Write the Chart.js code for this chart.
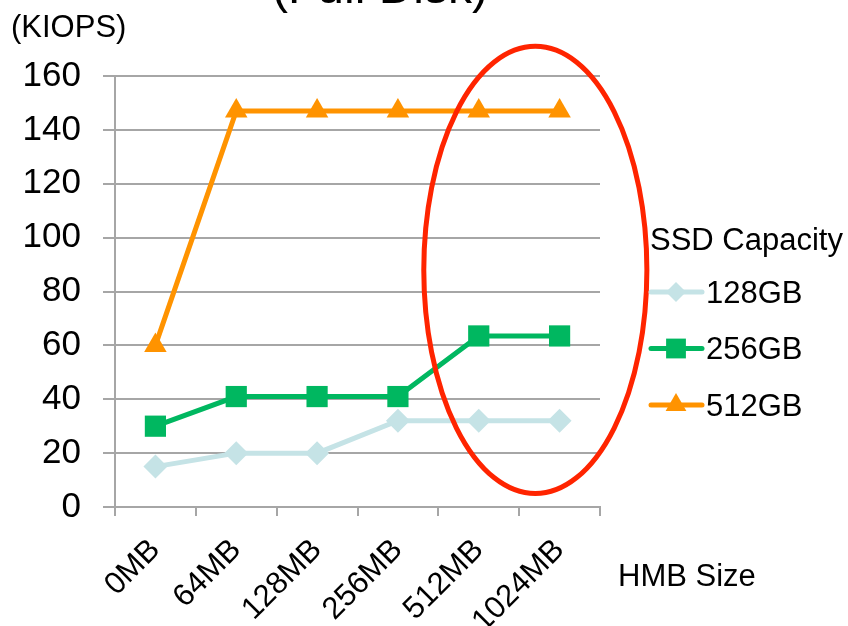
<!DOCTYPE html>
<html lang="en">
<head>
    <meta charset="UTF-8">
    <title>HMB Size vs KIOPS</title>
    <script src="https://cdn.jsdelivr.net/npm/chart.js@4.4.1/dist/chart.umd.min.js"></script>
    <style>
        html, body { margin: 0; padding: 0; background: white; }
        .chart-box { position: relative; width: 848px; height: 626px; }
    </style>
</head>
<body>
    <div class="chart-box">
        <canvas id="hmbChart" width="848" height="626"></canvas>
    </div>
    <script>
        // Data
        const hmbSizes = ['0MB', '64MB', '128MB', '256MB', '512MB', '1024MB'];
        const seriesNames = ['128GB', '256GB', '512GB'];
        const kiops128 = [15, 20, 20, 32, 32, 32];
        const kiops256 = [30, 41, 41, 41, 63.5, 63.5];
        const kiops512 = [60, 147, 147, 147, 147, 147];
        const yTicks = [0, 20, 40, 60, 80, 100, 120, 140, 160];

        // red ellipse highlight, in data units (category index / KIOPS)
        const ellipseCenter = [4.7, 88];
        const ellipseRadius = [1.38, 83];

        const FONT = "'Liberation Sans', Arial, sans-serif";
        const colors = ['#C5E3E6', '#00B760', '#FF9300'];
        const markers = ['rectRot', 'rect', 'triangle'];
        const markerSizes = [12, 15, 13];
        const legendMarkerSizes = [10, 14, 12];

        // title, unit label, axis label, legend and ellipse
        const extras = {
            id: 'extras',
            afterDatasetsDraw(chart) {
                const ctx = chart.ctx;
                const xs = chart.scales.x, ys = chart.scales.y;
                const cx = xs.getPixelForValue(ellipseCenter[0]);
                const cy = ys.getPixelForValue(ellipseCenter[1]);
                const rx = xs.getPixelForValue(ellipseCenter[0] + ellipseRadius[0]) - cx;
                const ry = cy - ys.getPixelForValue(ellipseCenter[1] + ellipseRadius[1]);
                ctx.save();
                ctx.strokeStyle = '#FF2400';
                ctx.lineWidth = 5;
                ctx.beginPath();
                ctx.ellipse(cx, cy, rx, ry, 0, 0, Math.PI * 2);
                ctx.stroke();
                ctx.restore();
            },
            afterDraw(chart) {
                const ctx = chart.ctx;
                ctx.save();
                ctx.fillStyle = '#000';
                ctx.textBaseline = 'alphabetic';

                ctx.font = '48px ' + FONT;
                ctx.textAlign = 'center';
                ctx.fillText('(Full Disk)', 380, 3);

                ctx.font = '31px ' + FONT;
                ctx.textAlign = 'left';
                ctx.fillText('(KIOPS)', 11, 37);
                ctx.fillText('HMB Size', 618, 586);

                // legend
                ctx.fillText('SSD Capacity', 650, 250);
                ctx.textBaseline = 'middle';
                chart.data.datasets.forEach((ds, i) => {
                    const y = 292 + i * 56.5;
                    ctx.strokeStyle = ds.borderColor;
                    ctx.fillStyle = ds.borderColor;
                    ctx.lineWidth = 5;
                    ctx.lineCap = 'round';
                    ctx.beginPath();
                    ctx.moveTo(651, y);
                    ctx.lineTo(702, y);
                    ctx.stroke();
                    Chart.helpers.drawPoint(ctx, {
                        pointStyle: ds.pointStyle,
                        radius: legendMarkerSizes[i],
                        borderWidth: 0
                    }, 676, y);
                    ctx.fillStyle = '#000';
                    ctx.fillText(ds.label, 706, y + 2);
                });
                ctx.restore();
            }
        };

        const seriesValues = [kiops128, kiops256, kiops512];
        const datasets = seriesNames.map((name, i) => ({
            label: name,
            data: seriesValues[i],
            borderColor: colors[i],
            backgroundColor: colors[i],
            pointBackgroundColor: colors[i],
            pointBorderColor: colors[i],
            pointBorderWidth: 0,
            pointStyle: markers[i],
            pointRadius: markerSizes[i],
            borderWidth: 5,
            tension: 0,
            fill: false
        }));

        new Chart(document.getElementById('hmbChart'), {
            type: 'line',
            data: { labels: hmbSizes, datasets: datasets },
            options: {
                responsive: false,
                animation: false,
                layout: { padding: { top: 76, right: 248, left: 0, bottom: 0 } },
                plugins: {
                    legend: { display: false },
                    title: { display: false },
                    tooltip: { enabled: false }
                },
                scales: {
                    x: {
                        offset: true,
                        afterFit(scale) { scale.height = 119; },
                        grid: {
                            offset: true,
                            drawOnChartArea: false,
                            drawTicks: true,
                            tickLength: 9,
                            color: '#A6A6A6',
                            lineWidth: 2
                        },
                        border: { display: true, color: '#A6A6A6', width: 2 },
                        ticks: {
                            minRotation: 45,
                            maxRotation: 45,
                            padding: 16,
                            color: '#000',
                            font: { family: FONT, size: 31 }
                        }
                    },
                    y: {
                        min: 0,
                        max: 160,
                        afterFit(scale) { scale.width = 115; },
                        afterBuildTicks(scale) { scale.ticks = yTicks.map(v => ({ value: v })); },
                        grid: {
                            color: '#A6A6A6',
                            lineWidth: 2,
                            drawTicks: true,
                            tickLength: 12,
                            z: -1
                        },
                        border: { display: true, color: '#A6A6A6', width: 2 },
                        ticks: {
                            padding: 22,
                            color: '#000',
                            font: { family: FONT, size: 35 }
                        }
                    }
                }
            },
            plugins: [extras]
        });
    </script>
</body>
</html>
